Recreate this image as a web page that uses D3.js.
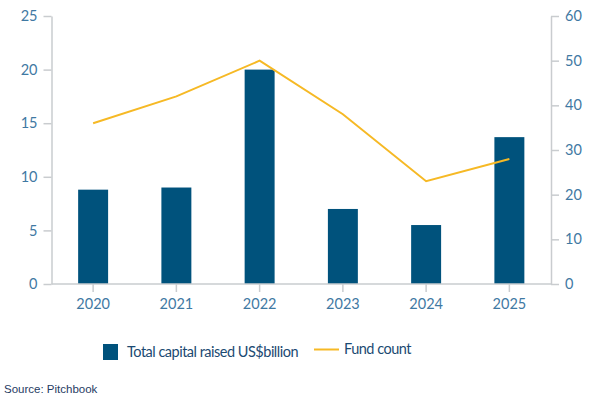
<!DOCTYPE html>
<html>
<head>
<meta charset="utf-8">
<script src="https://cdn.jsdelivr.net/npm/d3@7"></script>
<style>
  body { margin: 0; background: #fff; }
  svg text { font-family: Lato, "Open Sans", sans-serif; }
</style>
</head>
<body>
<svg width="594" height="398"></svg>
<script>
// data
const years = ['2020', '2021', '2022', '2023', '2024', '2025'];
const capitalRaised = [8.8, 9.0, 20.0, 7.0, 5.5, 13.7];
const fundCount = [36, 42, 50, 38, 23, 28];
const leftTicks = [0, 5, 10, 15, 20, 25];
const rightTicks = [0, 10, 20, 30, 40, 50, 60];

const barColor = '#00527c';
const lineColor = '#f6b925';
const tickColor = '#3f79a3';
const axisColor = '#c9cccf';

const margin = { top: 16, right: 43, bottom: 114, left: 51.5 };
const width = 594 - margin.left - margin.right;
const height = 398 - margin.top - margin.bottom;

const svg = d3.select('svg');
const g = svg.append('g')
  .attr('transform', `translate(${margin.left},${margin.top})`);

const x = d3.scaleBand().domain(years).range([0, width]).paddingInner(0.64).paddingOuter(0.32);
const xc = d => x(d) + x.bandwidth() / 2;
const yL = d3.scaleLinear().domain([0, 25]).range([height, 0]);
const yR = d3.scaleLinear().domain([0, 60]).range([height, 0]);

// bars
g.selectAll('rect.bar')
  .data(years)
  .join('rect')
  .attr('class', 'bar')
  .attr('x', d => x(d))
  .attr('y', (d, i) => yL(capitalRaised[i]))
  .attr('width', x.bandwidth())
  .attr('height', (d, i) => height - yL(capitalRaised[i]))
  .attr('fill', barColor);

// axes
function styleAxis(sel) {
  sel.select('.domain').attr('stroke', axisColor).attr('stroke-width', 1.5);
  sel.selectAll('.tick line').attr('stroke', axisColor).attr('stroke-width', 1.5);
  sel.selectAll('.tick text').attr('fill', tickColor).attr('font-size', 14.5).attr('font-family', 'Lato, sans-serif');
}

g.append('g')
  .call(d3.axisLeft(yL).tickValues(leftTicks).tickSize(8).tickSizeOuter(0).tickPadding(6))
  .call(styleAxis);

g.append('g')
  .attr('transform', `translate(${width},0)`)
  .call(d3.axisRight(yR).tickValues(rightTicks).tickSize(8).tickSizeOuter(0).tickPadding(6))
  .call(styleAxis);

const xAxis = g.append('g')
  .attr('transform', `translate(0,${height})`)
  .call(d3.axisBottom(x).tickSize(8).tickSizeOuter(0).tickPadding(7))
  .call(styleAxis);
xAxis.select('.domain').attr('d', `M0,0H${width}`);

// fund count line
const line = d3.line()
  .x((d, i) => xc(years[i]))
  .y(d => yR(d));

g.append('path')
  .datum(fundCount)
  .attr('fill', 'none')
  .attr('stroke', lineColor)
  .attr('stroke-width', 2)
  .attr('d', line);

// legend
const legend = svg.append('g').attr('transform', 'translate(103,344)');
legend.append('rect').attr('width', 15).attr('height', 16).attr('fill', barColor);
legend.append('text')
  .attr('x', 24).attr('y', 8).attr('dy', '0.35em')
  .attr('font-size', 14.5).attr('fill', '#1b4a72')
  .attr('letter-spacing', -0.5)
  .text('Total capital raised US$billion');
legend.append('line')
  .attr('x1', 211).attr('x2', 236).attr('y1', 5.5).attr('y2', 5.5)
  .attr('stroke', lineColor).attr('stroke-width', 2);
legend.append('text')
  .attr('x', 241).attr('y', 5).attr('dy', '0.35em')
  .attr('font-size', 14.5).attr('fill', '#1b4a72')
  .attr('letter-spacing', -0.5)
  .text('Fund count');

svg.append('text')
  .attr('x', 4).attr('y', 393)
  .attr('font-size', 11.5).attr('fill', '#1f3b63')
  .style('font-family', '"Liberation Sans", Arial, sans-serif')
  .text('Source: Pitchbook');
</script>
</body>
</html>
